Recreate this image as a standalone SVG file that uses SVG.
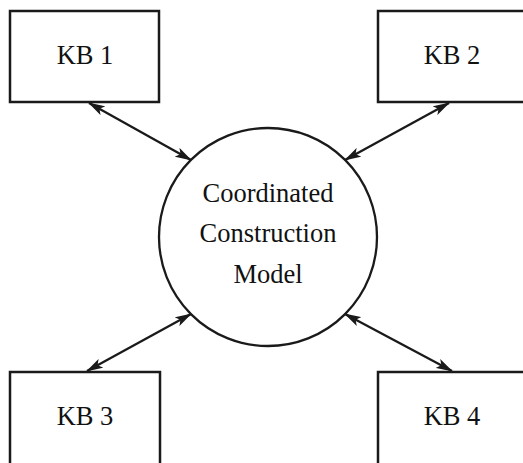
<svg xmlns="http://www.w3.org/2000/svg" width="523" height="463" viewBox="0 0 523 463">
<style>
.box{fill:#fff;stroke:#1a1a1a;stroke-width:2.5}
.lbl{font-family:"Liberation Serif","Times New Roman",serif;font-size:26.5px;fill:#111;text-anchor:middle}
.con{stroke:#1a1a1a;stroke-width:2.3;fill:none;marker-start:url(#ah);marker-end:url(#ah)}
</style>
<defs>
<marker id="ah" viewBox="0 0 17 11" refX="16" refY="5.5" markerWidth="17" markerHeight="11" markerUnits="userSpaceOnUse" orient="auto-start-reverse">
<path d="M0,0.5 L17,5.5 L0,10.5 L4,5.5 Z" fill="#1a1a1a"/>
</marker>
</defs>
<rect width="523" height="463" fill="#fff"/>
<g id="connectors">
<line class="con" x1="89" y1="103" x2="191" y2="160"/>
<line class="con" x1="449" y1="103" x2="345" y2="160"/>
<line class="con" x1="87" y1="371" x2="191" y2="314"/>
<line class="con" x1="452" y1="371" x2="345" y2="314"/>
</g>
<g id="kb1">
<rect class="box" x="10" y="11" width="149" height="91"/>
<text class="lbl" x="85" y="64">KB 1</text>
</g>
<g id="kb2">
<rect class="box" x="378" y="11" width="150" height="91"/>
<text class="lbl" x="452" y="64">KB 2</text>
</g>
<g id="kb3">
<rect class="box" x="10" y="372" width="150" height="100"/>
<text class="lbl" x="85" y="425">KB 3</text>
</g>
<g id="kb4">
<rect class="box" x="378" y="372" width="150" height="100"/>
<text class="lbl" x="452" y="425">KB 4</text>
</g>
<g id="ccm">
<circle cx="268" cy="237" r="109" fill="none" stroke="#1a1a1a" stroke-width="2.3"/>
<text class="lbl" x="268" y="202">Coordinated</text>
<text class="lbl" x="268" y="242">Construction</text>
<text class="lbl" x="268" y="283">Model</text>
</g>
</svg>
